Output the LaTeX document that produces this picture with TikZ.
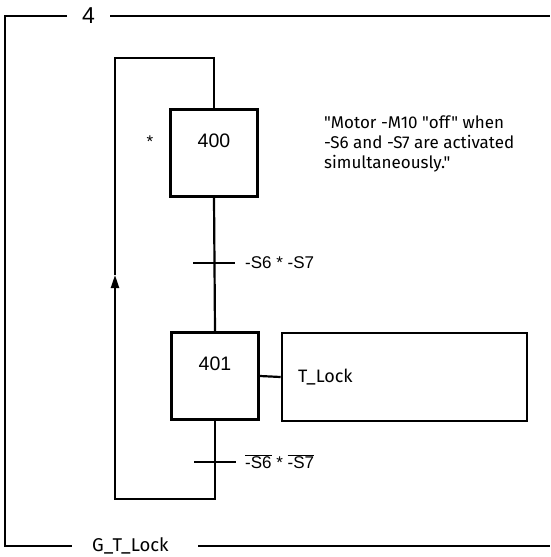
\documentclass[tikz,border=0pt]{standalone}
\usepackage{fontspec}
\setmainfont{Liberation Sans}
\newfontfamily\dinfont{Fira Sans}
\usepackage{tikz}
\usetikzlibrary{arrows.meta}

\tikzset{
  frame/.style={line width=1.8pt},
  flow/.style={line width=2.2pt},
  stepbox/.style={draw, line width=2.6pt, minimum width=87pt, minimum height=87pt,
    inner sep=0pt, font=\fontsize{19.5}{22}\selectfont, text height=14pt, text depth=26pt},
  actbox/.style={draw, line width=2.6pt, minimum height=88pt, text width=213pt,
    inner xsep=16pt, align=left, font=\dinfont\fontsize{18}{20}\selectfont},
  bar/.style={line width=2.4pt},
  cond/.style={anchor=west, inner sep=0pt, font=\fontsize{17}{19}\selectfont},
  note/.style={anchor=north west, inner sep=0pt, align=left,
    font=\dinfont\fontsize{17}{20}\selectfont},
}

\begin{document}
\begin{tikzpicture}[x=1pt, y=-1pt]
\useasboundingbox (0,0) rectangle (550,557);

% macro step frame
\node[inner sep=0pt, font=\fontsize{23}{26}\selectfont] (num) at (88.5,16) {4};
\node[anchor=west, inner sep=0pt, font=\dinfont\fontsize{18.5}{20}\selectfont] (gname) at (92,546) {G\_T\_Lock};
\draw[frame] (67,16) -| (5,546) -- (72,546);
\draw[frame] (110,16) -- (550,16);
\draw[frame] (198,546) -- (550,546);

% steps
\node[stepbox] (s400) at (214,153) {400};
\node[stepbox] (s401) at (215,376) {401};
\node[actbox] (a401) at (404.5,377) {T\_Lock};
\node[anchor=base, inner sep=0pt, font=\fontsize{17}{19}\selectfont] (init) at (150,147.5) {*};

\node[note] (txt) at (324,116) {"Motor -M10 "off" when\\-S6 and -S7 are activated\\simultaneously."};

% transitions
\coordinate (t1) at (214,263);
\coordinate (t2) at (215,462);
\draw[flow] (s400.south) -- (s401.north);
\draw[flow] (s401.east) -- (a401.west);
\draw[bar] ([xshift=-21pt]t1) -- ([xshift=21pt]t1);
\draw[bar] ([xshift=-21pt]t2) -- ([xshift=21pt]t2);
\node[cond] (c1) at (245,263) {-S6 * -S7};
\node[cond] (c2) at (245,462) {$\overline{\mbox{-S6}}$ * $\overline{\mbox{-S7}}$};

% return loop
\coordinate (lb) at (115,499);
\coordinate (arr) at (115,275);
\coordinate (lt) at (115,58);
\draw[flow, -{Triangle[length=13pt, width=8pt]}] (s401.south) |- (lb) -- (arr);
\draw[flow] (arr) -- (lt) -| (s400.north);

\end{tikzpicture}
\end{document}
